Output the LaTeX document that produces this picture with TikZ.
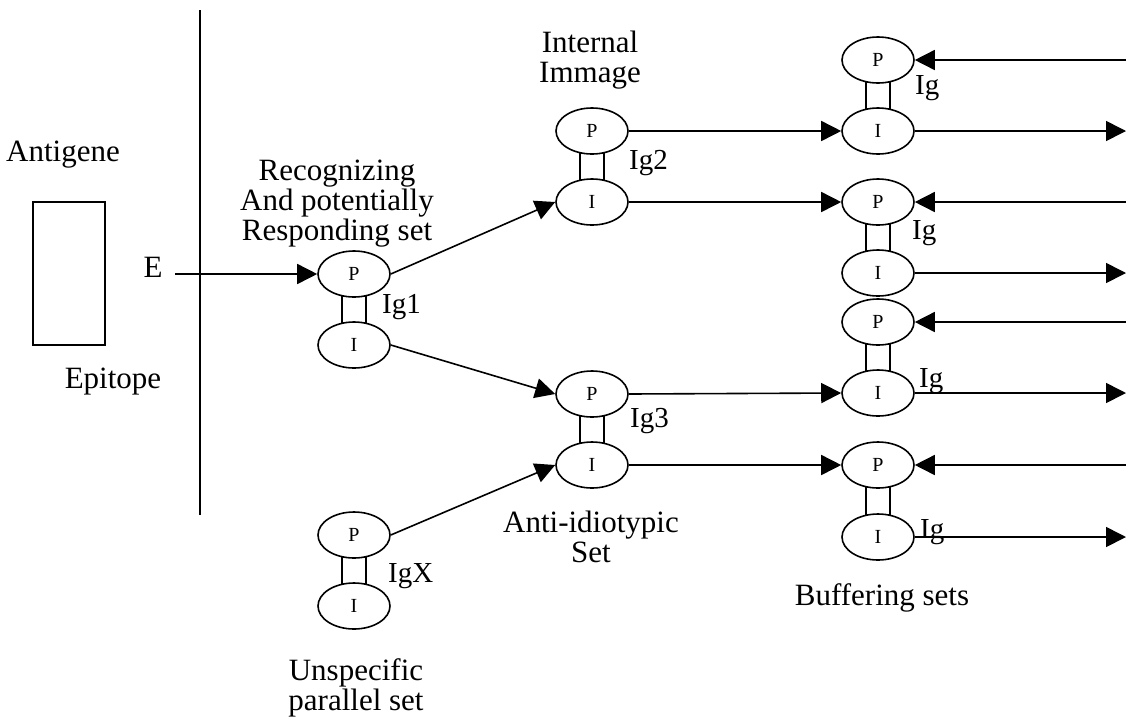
\documentclass[tikz,border=0pt]{standalone}
\usepackage{fontspec}
\setmainfont{Liberation Serif}
\usetikzlibrary{shapes.geometric,arrows.meta,calc}
\begin{document}
\begin{tikzpicture}[x=1pt,y=-1pt,
  cell/.style={ellipse,draw,line width=1.6pt,minimum width=72pt,minimum height=46pt,inner sep=0pt,font=\fontsize{20}{20}\selectfont},
  lbl/.style={anchor=base,font=\fontsize{31}{30}\selectfont,inner sep=0pt,align=center},
  iglbl/.style={anchor=base west,font=\fontsize{29}{29}\selectfont,inner sep=0pt},
  conn/.style={line width=1.6pt,-{Triangle[length=20pt,width=20pt]}},
  link/.style={line width=1.6pt}]
\useasboundingbox (0,0) rectangle (1126,721);
% texts
\node[lbl] (antigene) at (63,161) {Antigene};
\node[lbl] (E) at (153,277) {E};
\node[lbl] (epitope) at (113,388) {Epitope};
\node[lbl] (recog) at (337,240) {Recognizing\\And potentially\\Responding set};
\node[lbl] (internal) at (590,82) {Internal\\Immage};
\node[lbl] (anti) at (591,562) {Anti-idiotypic\\Set};
\node[lbl] (unspec) at (356,710) {Unspecific\\parallel set};
\node[lbl] (buffer) at (882,605) {Buffering sets};
% antigen box and separator
\node[draw,line width=1.6pt,minimum width=72pt,minimum height=143pt,inner sep=0pt] (ag) at (69,273.5) {};
\coordinate (vtop) at (200,10);
\coordinate (vbot) at (200,515);
\draw[link] (vtop) -- (vbot);
% cells
\node[cell] (P1) at (354,274) {P};
\node[cell] (I1) at (354,345) {I};
\node[cell] (P2) at (592,131) {P};
\node[cell] (I2) at (592,202) {I};
\node[cell] (P3) at (592,394) {P};
\node[cell] (I3) at (592,465) {I};
\node[cell] (PX) at (354,535) {P};
\node[cell] (IX) at (354,606) {I};
\node[cell] (B1p) at (878,60) {P};
\node[cell] (B1i) at (878,131) {I};
\node[cell] (B2p) at (878,202) {P};
\node[cell] (B2i) at (878,273) {I};
\node[cell] (B3p) at (878,322) {P};
\node[cell] (B3i) at (878,393) {I};
\node[cell] (B4p) at (878,465) {P};
\node[cell] (B4i) at (878,537) {I};
% links between P and I
\foreach \p/\i in {P1/I1,P2/I2,P3/I3,PX/IX,B1p/B1i,B2p/B2i,B3p/B3i,B4p/B4i}{
  \draw[link] ($(\p.south)+(-12,-1.3)$) rectangle ($(\i.north)+(12,1.3)$);
}
% Ig labels
\node[iglbl] (ig1) at (382,313) {Ig1};
\node[iglbl] (ig2) at (629,169) {Ig2};
\node[iglbl] (ig3) at (630,427) {Ig3};
\node[iglbl] (igx) at (388,582) {IgX};
\node[iglbl] (igb1) at (915,94) {Ig};
\node[iglbl] (igb2) at (912,239) {Ig};
\node[iglbl] (igb3) at (919,387) {Ig};
\node[iglbl] (igb4) at (920,538) {Ig};
% arrows
\coordinate (estart) at (175,274);
\draw[conn] (estart) -- (P1.west);
\draw[conn] (P1.east) -- (I2.west);
\draw[conn] (I1.east) -- (P3.west);
\draw[conn] (PX.east) -- (I3.west);
\draw[conn] (P2.east) -- (B1i.west);
\draw[conn] (I2.east) -- (B2p.west);
\draw[conn] (P3.east) -- (B3i.west);
\draw[conn] (I3.east) -- (B4p.west);
\coordinate (r1) at (1126,60);
\coordinate (r2) at (1126,131);
\coordinate (r3) at (1126,202);
\coordinate (r4) at (1126,273);
\coordinate (r5) at (1126,322);
\coordinate (r6) at (1126,393);
\coordinate (r7) at (1126,465);
\coordinate (r8) at (1126,537);
\draw[conn] (r1) -- (B1p.east);
\draw[conn] (B1i.east) -- (r2);
\draw[conn] (r3) -- (B2p.east);
\draw[conn] (B2i.east) -- (r4);
\draw[conn] (r5) -- (B3p.east);
\draw[conn] (B3i.east) -- (r6);
\draw[conn] (r7) -- (B4p.east);
\draw[conn] (B4i.east) -- (r8);
\end{tikzpicture}
\end{document}
